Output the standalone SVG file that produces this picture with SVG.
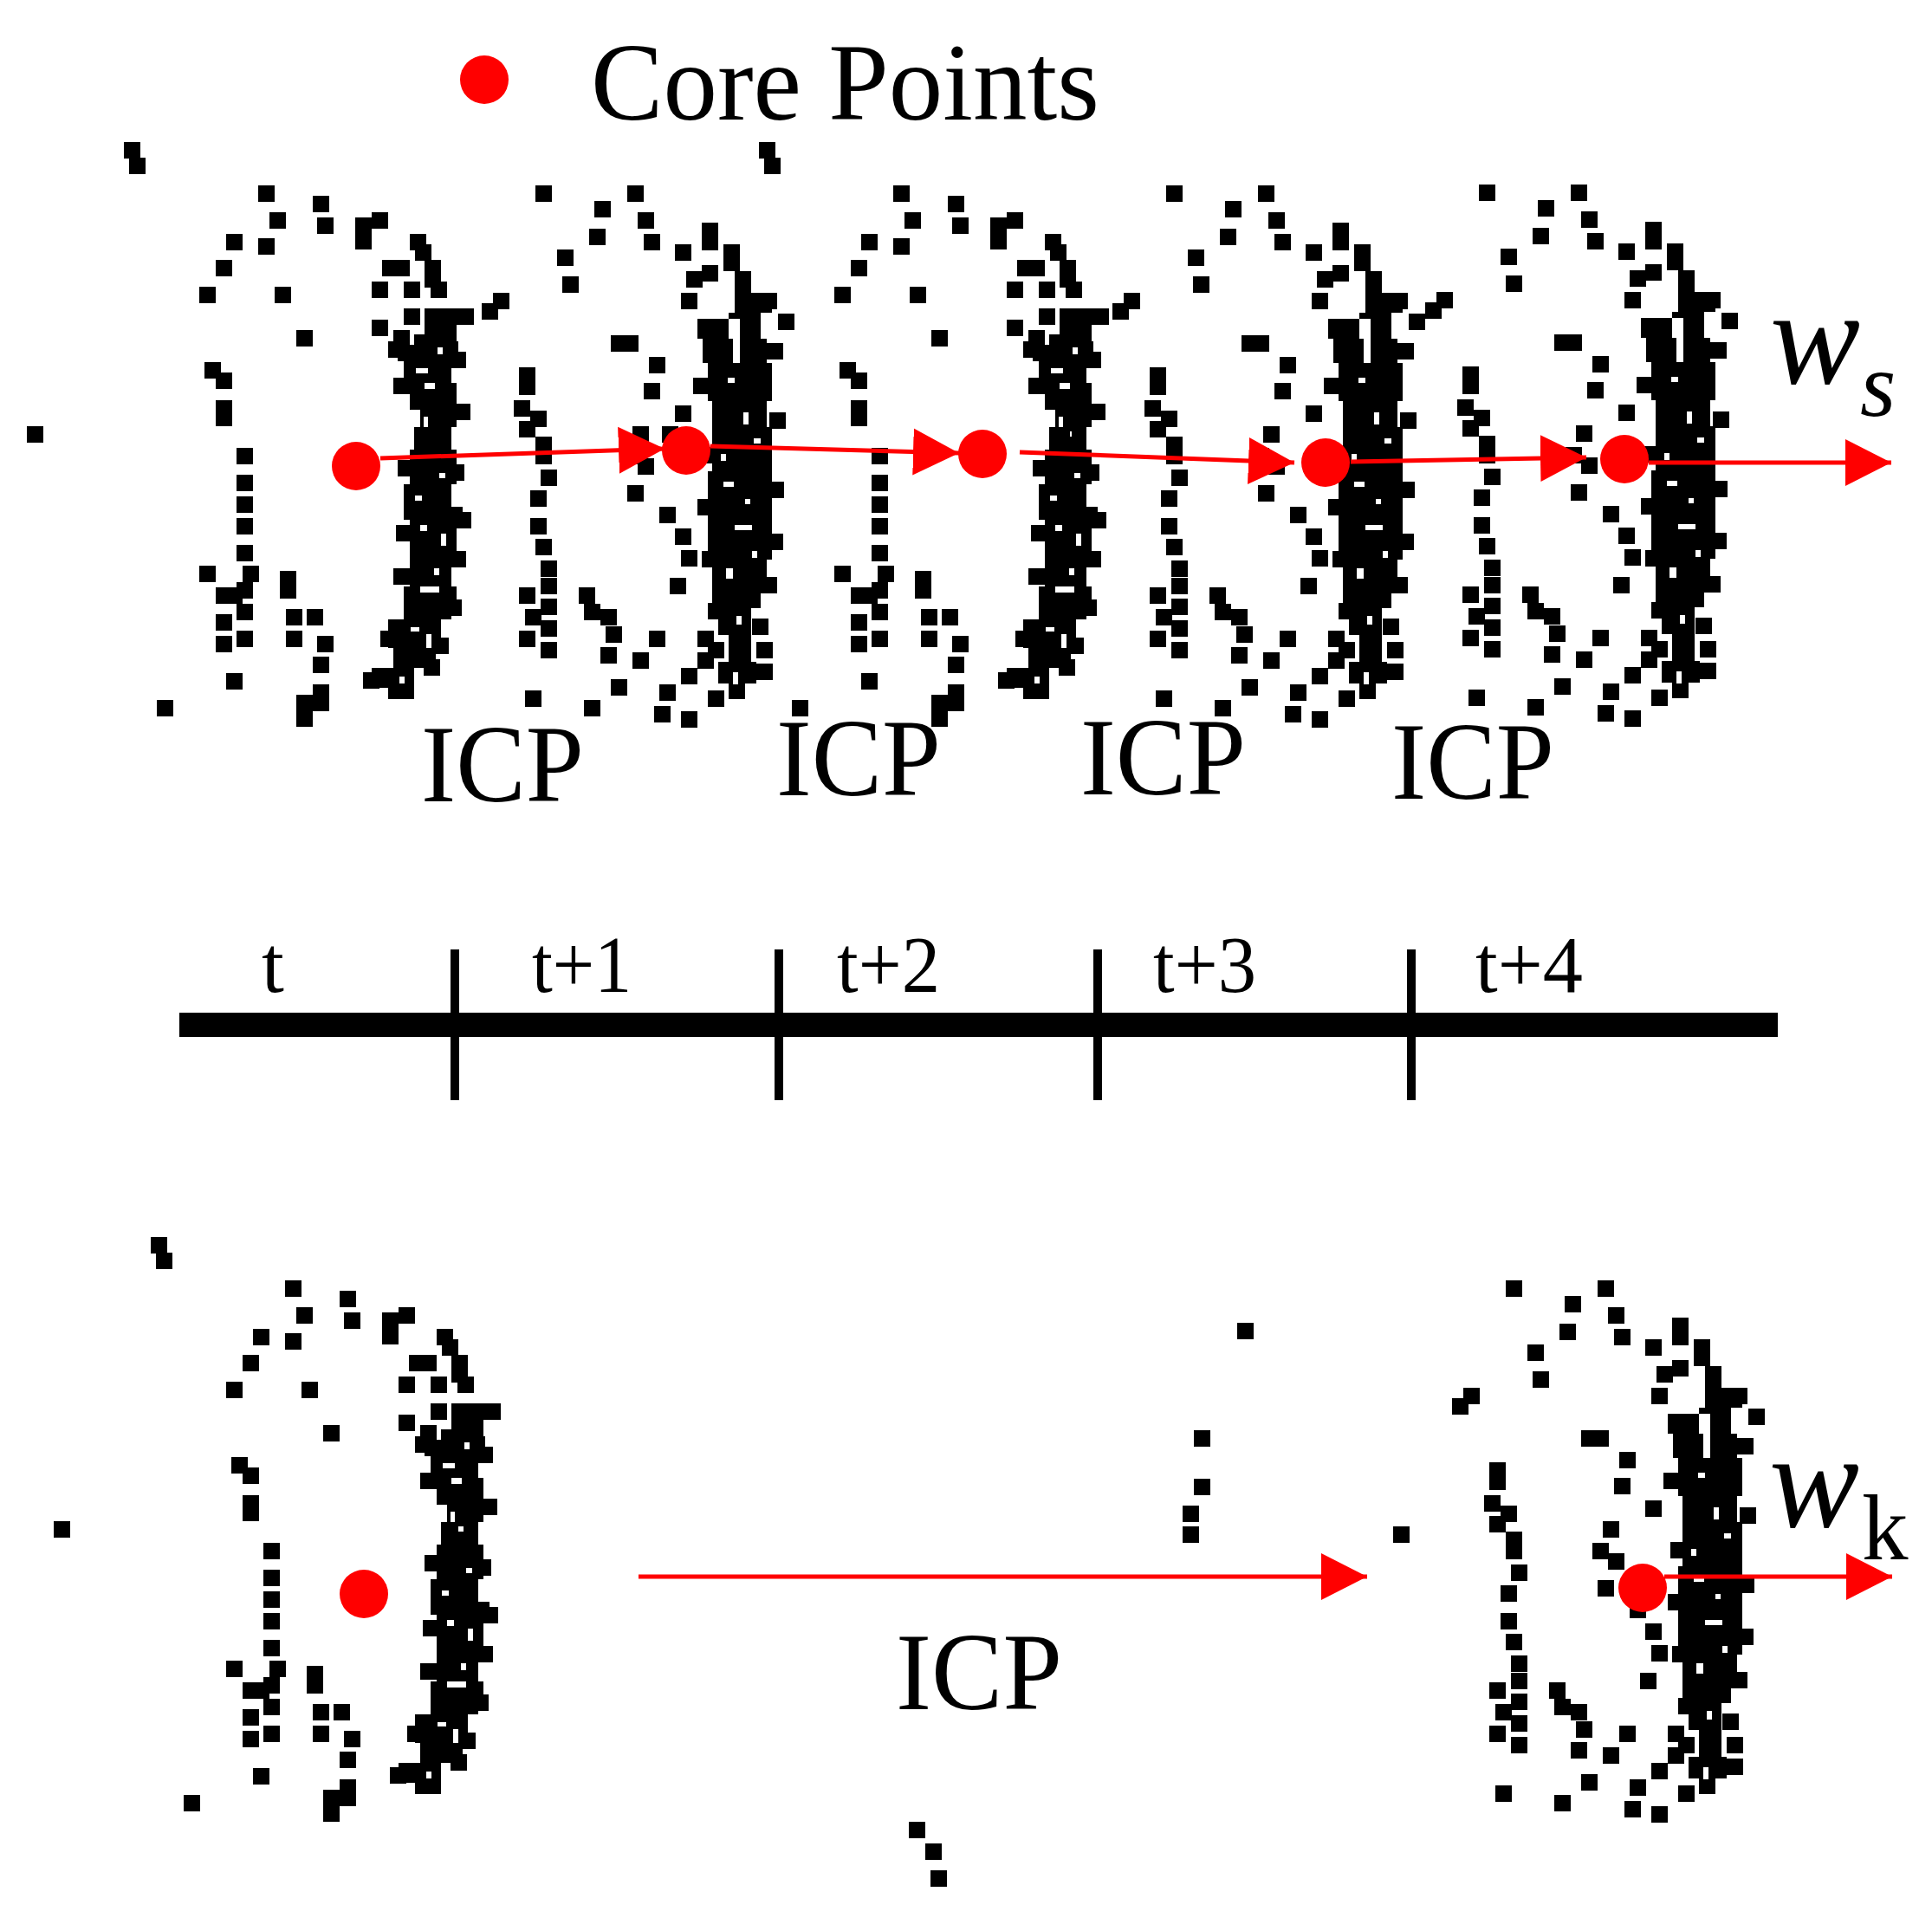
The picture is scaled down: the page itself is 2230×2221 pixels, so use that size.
<svg xmlns="http://www.w3.org/2000/svg" xmlns:xlink="http://www.w3.org/1999/xlink" width="2230" height="2221" viewBox="0 0 2230 2221">
<style>
.pt{fill:#000}
.hole{fill:#fff}
.core{fill:#ff0000}
.arr{stroke:#ff0000;stroke-width:5;fill:none}
.lbl{font-family:"Liberation Serif","Times New Roman",serif;fill:#000}
.tl{fill:#000}
</style>
<defs>
<marker id="ah" markerUnits="userSpaceOnUse" markerWidth="54" markerHeight="56" refX="53" refY="28" orient="auto" viewBox="0 0 54 56">
<path d="M0,1 L53,28 L0,55 z" fill="#ff0000"/>
</marker>
<g id="frameA">
<path class="pt" d="M174 28h19v19h-19z M180 46h19v19h-19z M329 78h19v19h-19z M392 90h19v19h-19z M342 109h19v19h-19z M397 115h19v19h-19z M441 115h19v19h-19z M441 133h19v19h-19z M460 109h19v19h-19z M292 134h19v19h-19z M329 139h19v19h-19z M504 134h19v19h-19z M510 146h19v19h-19z M280 164h19v19h-19z M472 164h19v19h-19z M485 164h19v19h-19z M521 164h19v19h-19z M521 177h19v19h-19z M528 189h19v19h-19z M261 195h19v19h-19z M348 195h19v19h-19z M460 189h19v19h-19z M497 189h19v19h-19z M497 220h19v19h-19z M521 226h19v19h-19z M534 220h19v19h-19z M559 220h19v19h-19z M460 233h19v19h-19z M485 245h19v19h-19z M479 258h19v19h-19z M373 245h19v19h-19z M534 239h19v19h-19z M509 251h19v19h-19z M541 258h19v19h-19z M267 282h19v19h-19z M280 294h19v19h-19z M280 326h19v19h-19z M280 337h19v19h-19z M62 356h19v19h-19z M304 381h19v19h-19z M304 412h19v19h-19z M304 437h19v19h-19z M304 462h19v19h-19z M304 493h19v19h-19z M261 517h19v19h-19z M311 517h19v19h-19z M280 542h19v19h-19z M292 542h19v19h-19z M304 536h19v19h-19z M354 523h19v19h-19z M354 536h19v19h-19z M304 561h19v19h-19z M280 573h19v19h-19z M304 592h19v19h-19z M280 598h19v19h-19z M361 567h19v19h-19z M385 567h19v19h-19z M361 592h19v19h-19z M397 598h19v19h-19z M392 622h19v19h-19z M292 641h19v19h-19z M212 672h19v19h-19z M392 654h19v19h-19z M373 666h19v19h-19z M373 684h19v19h-19z M392 666h19v19h-19z"/>
<path class="pt" d="M521 220H577V239H521z M521 239H558V250H521z M509 250H558V276H509z M497 276H552V306H497z M504 306H558V337H504z M516 337H558V357H516z M509 357H552V383H509z M504 383H558V423H504z M497 423H552V449H497z M497 449H565V464H497z M504 464H558V510H504z M504 510H552V541H504z M497 541H558V561H497z M497 561H552V579H497z M479 579H540V612H479z M485 612H534V635H485z M460 635H509V658H460z M479 658H509V671H479z"/>
<path class="pt" d="M490 262h19v19h-19z M485 300h19v19h-19z M490 395h19v19h-19z M488 470h19v19h-19z M485 520h19v19h-19z M470 592h19v19h-19z M450 640h19v19h-19z M550 270h19v19h-19z M555 330h19v19h-19z M548 400h19v19h-19z M556 455h19v19h-19z M550 500h19v19h-19z M545 556h19v19h-19z M530 600h19v19h-19z M520 625h19v19h-19z"/>
<path class="hole" d="M521 306h12v7h-12z M529 362h6v6h-6z M516 470h8v7h-8z M540 480h6v14h-6z M516 541h22v7h-22z M523 596h6v16h-6z M511 289h14v6h-14z M536 265h6v8h-6z M520 345h5v12h-5z M538 410h7v6h-7z M510 436h8v6h-8z M532 520h6v8h-6z M505 588h10v5h-10z M492 645h6v8h-6z"/>
</g>
<g id="frameB">
<path class="pt" d="M238 78h19v19h-19z M344 78h19v19h-19z M306 96h19v19h-19z M356 109h19v19h-19z M300 128h19v19h-19z M363 134h19v19h-19z M430 121h19v19h-19z M430 134h19v19h-19z M399 146h19v19h-19z M455 146h19v19h-19z M455 158h19v19h-19z M468 177h19v19h-19z M468 189h19v19h-19z M263 152h19v19h-19z M269 183h19v19h-19z M412 177h19v19h-19z M430 170h19v19h-19z M189 202h19v19h-19z M176 214h19v19h-19z M406 202h19v19h-19z M468 202h19v19h-19z M486 202h19v19h-19z M498 202h19v19h-19z M518 226h19v19h-19z M325 251h19v19h-19z M338 251h19v19h-19z M369 276h19v19h-19z M219 288h19v19h-19z M219 301h19v19h-19z M363 306h19v19h-19z M213 326h19v19h-19z M232 338h19v19h-19z M219 350h19v19h-19z M399 332h19v19h-19z M108 362h19v19h-19z M350 356h19v19h-19z M238 368h19v19h-19z M238 381h19v19h-19z M338 381h19v19h-19z M356 393h19v19h-19z M244 406h19v19h-19z M344 424h19v19h-19z M232 430h19v19h-19z M381 449h19v19h-19z M232 462h19v19h-19z M399 474h19v19h-19z M238 486h19v19h-19z M406 499h19v19h-19z M244 511h19v19h-19z M244 531h19v19h-19z M393 531h19v19h-19z M219 542h19v19h-19z M288 542h19v19h-19z M244 555h19v19h-19z M226 567h19v19h-19z M244 580h19v19h-19z M294 561h19v19h-19z M313 567h19v19h-19z M319 587h19v19h-19z M219 592h19v19h-19z M244 605h19v19h-19z M369 592h19v19h-19z M425 592h19v19h-19z M437 605h19v19h-19z M425 617h19v19h-19z M313 611h19v19h-19z M350 617h19v19h-19z M406 635h19v19h-19z M325 648h19v19h-19z M226 661h19v19h-19z M294 672h19v19h-19z M381 654h19v19h-19z M375 679h19v19h-19z M406 685h19v19h-19z M437 661h19v19h-19z M493 605h19v19h-19z M493 630h19v19h-19z"/>
<path class="pt" d="M455 146H474V177H455z M468 177H487V202H468z M468 202H511V225H468z M461 225H498V232H461z M425 232H461V255H425z M474 232H498V255H474z M431 255H466V283H431z M474 255H505V283H474z M437 283H511V327H437z M442 327H505V357H442z M442 357H511V408H442z M437 408H511V459H437z M437 459H511V510H437z M442 510H505V541H442z M442 541H498V566H442z M449 566H487V597H449z M461 597H487V628H461z M449 628H493V653H449z M461 653H480V671H461z"/>
<path class="pt" d="M420 300h19v19h-19z M428 380h19v19h-19z M425 440h19v19h-19z M430 500h19v19h-19z M437 560h19v19h-19z M505 260h19v19h-19z M508 340h19v19h-19z M506 420h19v19h-19z M505 480h19v19h-19z M498 530h19v19h-19z M488 578h19v19h-19z"/>
<path class="hole" d="M460 300h8v6h-8z M478 340h6v14h-6z M455 420h12v6h-12z M480 440h6v6h-6z M468 470h20v6h-20z M458 520h8v12h-8z M466 640h6v14h-6z M466 240h6v14h-6z M490 370h8v6h-8z M452 388h6v8h-6z M488 500h6v8h-6z M470 575h6v10h-6z"/>
</g>
</defs>

<g id="legend">
<circle class="core" cx="559" cy="92" r="28"/>
<text class="lbl" x="682" y="138" font-size="128" textLength="587" lengthAdjust="spacingAndGlyphs">Core Points</text>
</g>

<g id="frame-t"><use xlink:href="#frameA" href="#frameA" transform="translate(-31,136)"/></g>
<g id="frame-t1"><use xlink:href="#frameB" href="#frameB" transform="translate(380,136)"/></g>
<g id="frame-t2"><use xlink:href="#frameA" href="#frameA" transform="translate(702,136)"/></g>
<g id="frame-t3"><use xlink:href="#frameB" href="#frameB" transform="translate(1108,136)"/></g>
<g id="frame-t4"><use xlink:href="#frameB" href="#frameB" transform="translate(1469,135)"/></g>
<g id="frame-bottom-left"><use xlink:href="#frameA" href="#frameA" transform="translate(0,1400)"/></g>
<g id="frame-bottom-right"><use xlink:href="#frameB" href="#frameB" transform="translate(1500,1400)"/></g>
<g id="extra-points">
<path class="pt" d="M1428 1527h19v19h-19z M1378 1651h19v19h-19z M1378 1707h19v19h-19z M1365 1738h19v19h-19z M1365 1762h19v19h-19z M1049 2103h19v19h-19z M1068 2128h19v19h-19z M1074 2159h19v19h-19z"/>
</g>

<g id="connectors">
<line class="arr" x1="439" y1="529" x2="767" y2="518" marker-end="url(#ah)"/>
<line class="arr" x1="820" y1="515" x2="1107" y2="523" marker-end="url(#ah)"/>
<line class="arr" x1="1177" y1="522" x2="1494" y2="534" marker-end="url(#ah)"/>
<line class="arr" x1="1559" y1="533" x2="1831" y2="528" marker-end="url(#ah)"/>
<line class="arr" x1="1903" y1="534" x2="2183" y2="534" marker-end="url(#ah)"/>
<line class="arr" x1="737" y1="1820" x2="1578" y2="1820" marker-end="url(#ah)"/>
<line class="arr" x1="1921" y1="1820" x2="2184" y2="1820" marker-end="url(#ah)"/>
</g>

<g id="core-points">
<circle class="core" cx="411" cy="538" r="28"/>
<circle class="core" cx="792" cy="520" r="28"/>
<circle class="core" cx="1134" cy="524" r="28"/>
<circle class="core" cx="1530" cy="534" r="28"/>
<circle class="core" cx="1875" cy="530" r="28"/>
<circle class="core" cx="420" cy="1840" r="28"/>
<circle class="core" cx="1896" cy="1833" r="28"/>
</g>

<g id="icp-labels">
<text class="lbl" x="486" y="925" font-size="128" textLength="188" lengthAdjust="spacingAndGlyphs">ICP</text>
<text class="lbl" x="896" y="918" font-size="128" textLength="190" lengthAdjust="spacingAndGlyphs">ICP</text>
<text class="lbl" x="1247" y="917" font-size="128" textLength="191" lengthAdjust="spacingAndGlyphs">ICP</text>
<text class="lbl" x="1606" y="922" font-size="128" textLength="188" lengthAdjust="spacingAndGlyphs">ICP</text>
<text class="lbl" x="1034" y="1973" font-size="128" textLength="192" lengthAdjust="spacingAndGlyphs">ICP</text>
</g>

<g id="w-labels">
<text class="lbl" x="2043" y="442" font-size="156" font-style="italic">w</text>
<text class="lbl" x="2147" y="480" font-size="106" font-style="italic">s</text>
<text class="lbl" x="2042" y="1762" font-size="156" font-style="italic">w</text>
<text class="lbl" x="2149" y="1800" font-size="107">k</text>
</g>

<g id="timeline">
<rect class="tl" x="207" y="1169" width="1845" height="28"/>
<rect class="tl" x="520" y="1096" width="10" height="174"/>
<rect class="tl" x="894" y="1096" width="10" height="174"/>
<rect class="tl" x="1262" y="1096" width="10" height="174"/>
<rect class="tl" x="1624" y="1096" width="10" height="174"/>
<text class="lbl" x="302" y="1145" font-size="93">t</text>
<text class="lbl" x="614" y="1145" font-size="93" textLength="115" lengthAdjust="spacingAndGlyphs">t+1</text>
<text class="lbl" x="966" y="1145" font-size="93" textLength="119" lengthAdjust="spacingAndGlyphs">t+2</text>
<text class="lbl" x="1331" y="1145" font-size="93" textLength="119" lengthAdjust="spacingAndGlyphs">t+3</text>
<text class="lbl" x="1703" y="1145" font-size="93" textLength="124" lengthAdjust="spacingAndGlyphs">t+4</text>
</g>
</svg>
